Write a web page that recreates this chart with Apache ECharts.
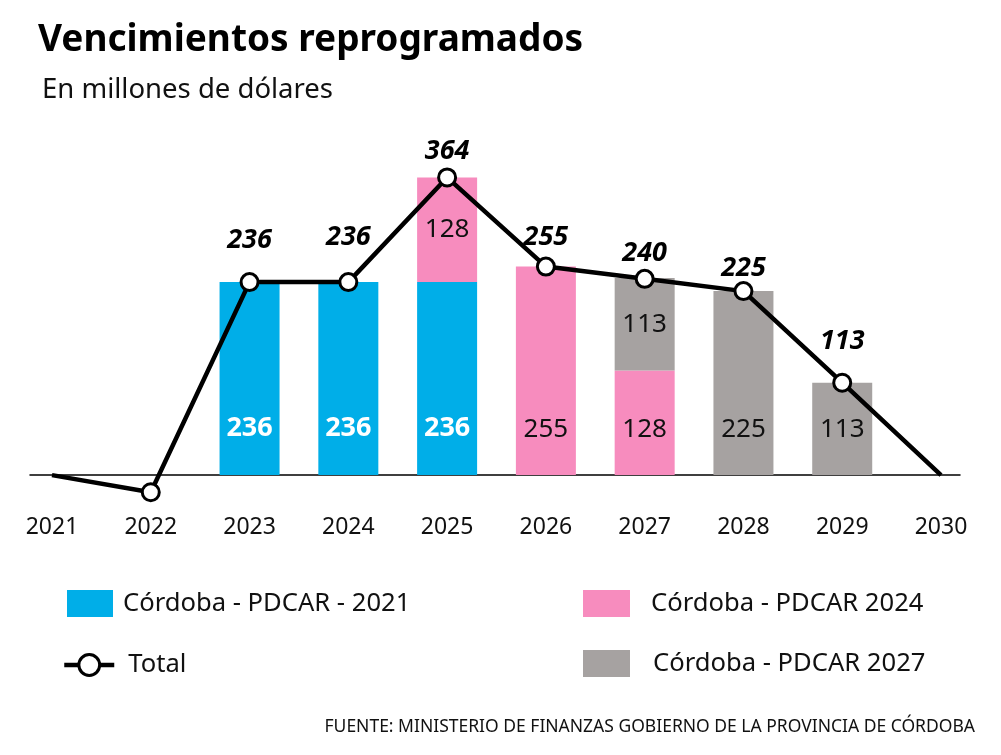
<!DOCTYPE html>
<html>
<head>
<meta charset="utf-8">
<script src="https://cdn.jsdelivr.net/npm/echarts@6/dist/echarts.min.js"></script>
<style>
html, body { margin: 0; padding: 0; background: #fff; }
#chart { width: 1001px; height: 755px; }
</style>
</head>
<body>
<div id="chart"></div>
<script>
// datos (millones de dólares)
const years = ['2021', '2022', '2023', '2024', '2025', '2026', '2027', '2028', '2029', '2030'];
const pdcar2021 = [null, null, 236, 236, 236, null, null, null, null, null];
const pdcar2024 = [null, null, null, null, 128, 255, 128, null, null, null];
const pdcar2027 = [null, null, null, null, null, null, 113, 225, 113, null];
const totals = [0, -21, 236, 236, 364, 255, 240, 225, 113, 0];

// distancia de la etiqueta del total sobre cada punto
const totalLabelLift = [0, 0, 18, 21, 3, 6, 2, -1, 18, 0];

const FONT = '"Noto Sans", "Open Sans", sans-serif';
const BLUE = '#00aee8';
const PINK = '#f78cbe';
const GRAY = '#a6a2a1';

function barData(values, below) {
    return values.map((v, i) => {
        if (v == null) return null;
        const stacked = below.some((arr) => arr[i] != null);
        return {
            value: v,
            label: stacked
                ? { position: 'inside' }
                : { position: 'insideBottom', distance: 33 }
        };
    });
}

const lineData = totals.map((v, i) => {
    const edge = i === 0 || i === totals.length - 1;
    return {
        value: v,
        symbol: edge ? 'none' : 'circle',
        label: { show: v > 0, distance: totalLabelLift[i] }
    };
});

const legendText = { fontSize: 25.6, color: '#111', fontFamily: FONT };

const chart = echarts.init(document.getElementById('chart'));
chart.setOption({
    animation: false,
    textStyle: { fontFamily: FONT },
    title: [
        {
            text: 'Vencimientos reprogramados',
            left: 33, top: 17,
            textStyle: { fontFamily: FONT, fontSize: 37, fontWeight: 'bold', color: '#000' }
        },
        {
            text: 'En millones de dólares',
            left: 37, top: 71,
            textStyle: { fontFamily: FONT, fontSize: 27.5, fontWeight: 'normal', color: '#111' }
        },
        {
            text: 'FUENTE: MINISTERIO DE FINANZAS GOBIERNO DE LA PROVINCIA DE CÓRDOBA',
            right: 21, top: 713,
            textStyle: { fontFamily: FONT, fontSize: 17.5, fontWeight: 'normal', color: '#111' }
        }
    ],
    legend: [
        {
            data: ['Córdoba - PDCAR - 2021'], left: 67, top: 590, padding: 0,
            icon: 'rect', itemWidth: 46, itemHeight: 27,
            textStyle: Object.assign({ padding: [0, 0, 0, 5] }, legendText)
        },
        {
            data: ['Total'], left: 62, top: 652, padding: 0,
            itemWidth: 50, itemHeight: 26,
            lineStyle: { width: 4.5, color: '#000' },
            itemStyle: { color: '#fff', borderColor: '#000', borderWidth: 3 },
            textStyle: Object.assign({ padding: [0, 0, 0, 9] }, legendText)
        },
        {
            data: ['Córdoba - PDCAR 2024'], left: 583, top: 590, padding: 0,
            icon: 'rect', itemWidth: 47, itemHeight: 27,
            textStyle: Object.assign({ padding: [0, 0, 0, 16] }, legendText)
        },
        {
            data: ['Córdoba - PDCAR 2027'], left: 583, top: 650, padding: 0,
            icon: 'rect', itemWidth: 47, itemHeight: 27,
            textStyle: Object.assign({ padding: [0, 0, 0, 18] }, legendText)
        }
    ],
    grid: [
        { left: 52, right: 60, top: 148, bottom: 239 },
        { left: 30, right: 41, top: 148, bottom: 239 }
    ],
    xAxis: [
        {
            type: 'category',
            gridIndex: 0,
            data: years,
            boundaryGap: false,
            axisLine: { show: false, onZero: false },
            axisTick: { show: false },
            axisLabel: { margin: 0, fontSize: 23, color: '#111', fontFamily: FONT }
        },
        {
            // línea base larga
            type: 'value',
            gridIndex: 1,
            min: 0, max: 1,
            axisLine: { show: true, onZero: true, lineStyle: { color: '#000', width: 1.5 } },
            axisTick: { show: false },
            axisLabel: { show: false },
            splitLine: { show: false }
        }
    ],
    yAxis: [
        { type: 'value', gridIndex: 0, min: -50, max: 400, show: false, splitLine: { show: false } },
        { type: 'value', gridIndex: 1, min: -50, max: 400, show: false, splitLine: { show: false } }
    ],
    series: [
        {
            name: 'Córdoba - PDCAR - 2021',
            type: 'bar',
            stack: 'total',
            barWidth: 60,
            itemStyle: { color: BLUE },
            label: { show: true, fontSize: 27, fontWeight: 'bold', color: '#fff', fontFamily: FONT },
            data: barData(pdcar2021, [])
        },
        {
            name: 'Córdoba - PDCAR 2024',
            type: 'bar',
            stack: 'total',
            barWidth: 60,
            itemStyle: { color: PINK },
            label: { show: true, fontSize: 26, color: '#111', fontFamily: FONT },
            data: barData(pdcar2024, [pdcar2021])
        },
        {
            name: 'Córdoba - PDCAR 2027',
            type: 'bar',
            stack: 'total',
            barWidth: 60,
            itemStyle: { color: GRAY },
            label: { show: true, fontSize: 26, color: '#111', fontFamily: FONT },
            data: barData(pdcar2027, [pdcar2021, pdcar2024])
        },
        {
            name: 'Total',
            type: 'line',
            z: 5,
            symbol: 'circle',
            symbolSize: 17,
            lineStyle: { color: '#000', width: 4.5 },
            itemStyle: { color: '#fff', borderColor: '#000', borderWidth: 3 },
            label: {
                show: true,
                position: 'top',
                fontSize: 27,
                fontWeight: 'bold',
                fontStyle: 'italic',
                color: '#000',
                fontFamily: FONT
            },
            data: lineData
        }
    ]
});
</script>
</body>
</html>
